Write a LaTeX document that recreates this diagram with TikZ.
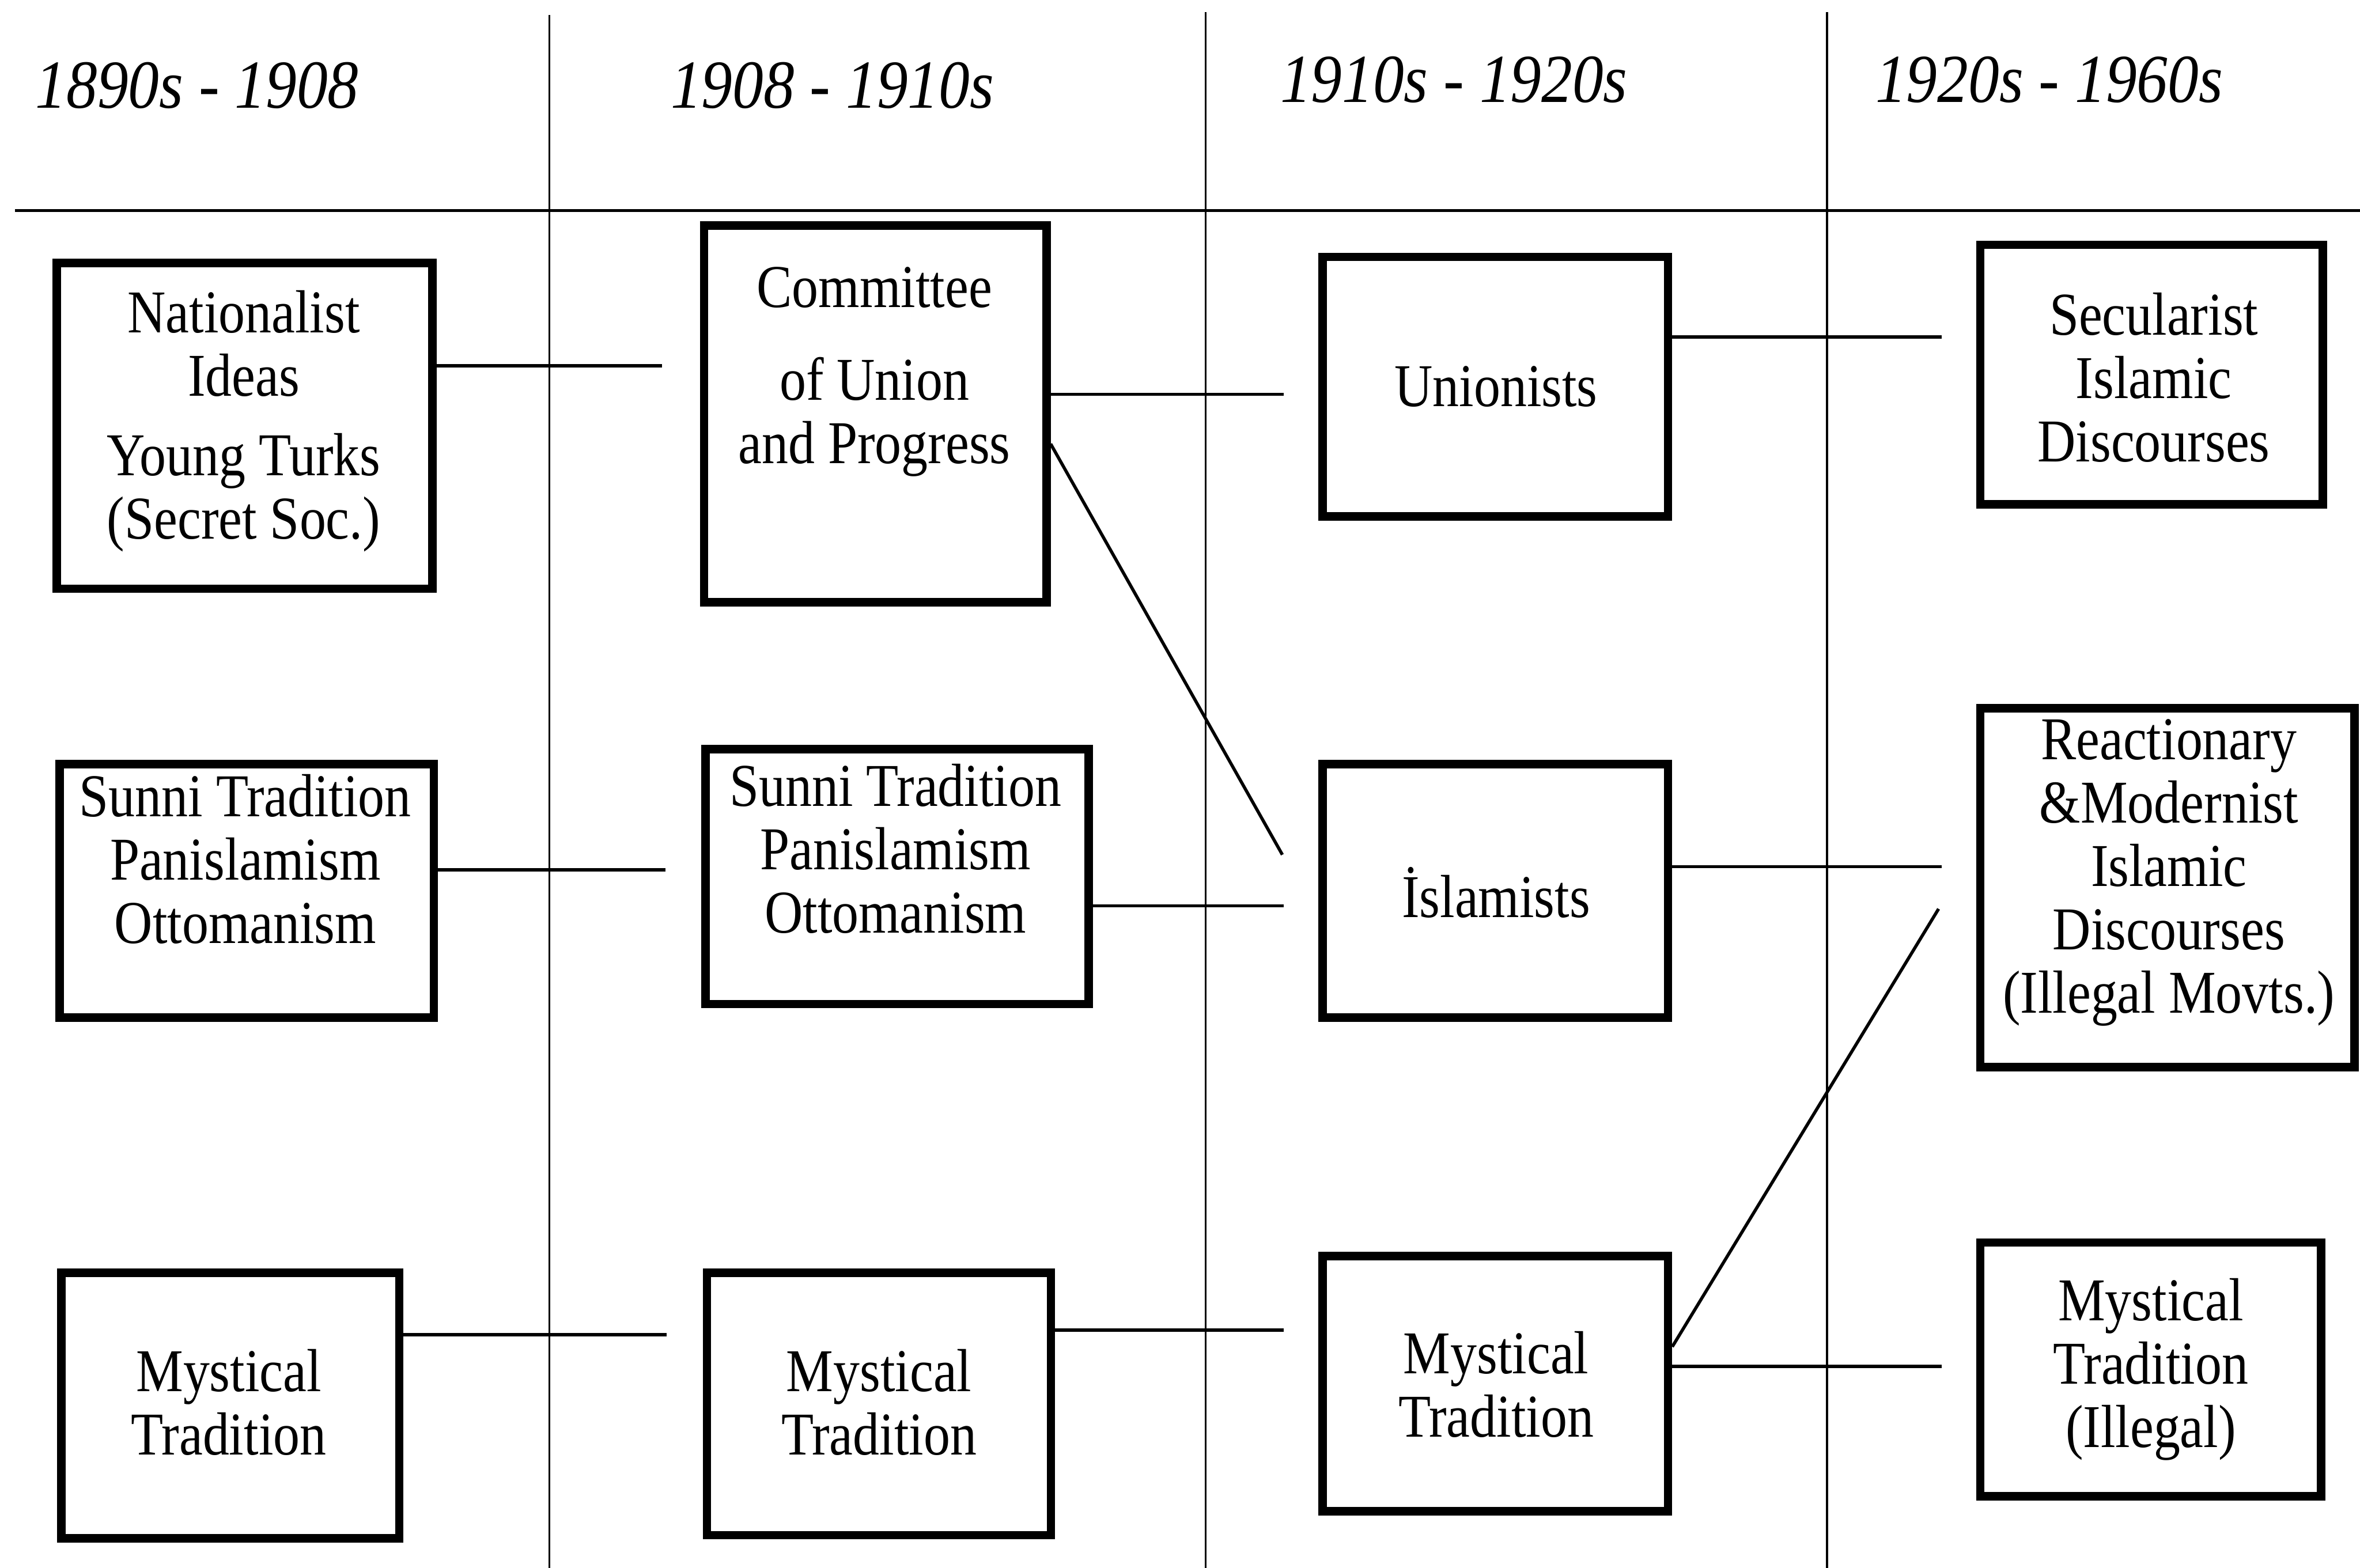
\documentclass[tikz,border=0pt]{standalone}
\usepackage{fontspec}
\setmainfont{Liberation Serif}
\newfontfamily\boxfont[FakeStretch=0.87]{Liberation Serif}
\newfontfamily\hdfont[FakeStretch=0.9]{Liberation Serif}
\tikzset{
  box/.style={draw, line width=1.6pt, inner sep=0pt},
  bx/.style 2 args={box, minimum width=#1mm, minimum height=#2mm},
  txt/.style={align=center, inner sep=0pt, font=\boxfont\fontsize{11.5}{12}\selectfont},
  hd/.style={inner sep=0pt, font=\hdfont\itshape\fontsize{13}{15}\selectfont},
  conn/.style={line width=0.6pt},
  sepline/.style={line width=0.4pt},
}
\begin{document}
\begin{tikzpicture}[x=0.1mm, y=-0.1mm]
\useasboundingbox (0,0) rectangle (1568,1042);

% separators
\coordinate (v1t) at (365,10);   \coordinate (v1b) at (365,1042);
\coordinate (v2t) at (801,8);    \coordinate (v2b) at (801,1042);
\coordinate (v3t) at (1214,8);   \coordinate (v3b) at (1214,1042);
\coordinate (hl) at (10,140);    \coordinate (hr) at (1568,140);
\draw[sepline] (v1t) -- (v1b);
\draw[sepline] (v2t) -- (v2b);
\draw[sepline] (v3t) -- (v3b);
\draw[conn] (hl) -- (hr);

% headers
\node[hd] (h1) at (131,57) {1890s - 1908};
\node[hd] (h2) at (553,57) {1908 - 1910s};
\node[hd] (h3) at (966,53) {1910s - 1920s};
\node[hd] (h4) at (1361.5,53) {1920s - 1960s};

% boxes
\node[bx={24.95}{21.65}] (b1) at (162.5,283) {};
\node[bx={22.75}{25.05}] (b2) at (581.5,275) {};
\node[bx={22.95}{17.25}] (b3) at (993.5,257) {};
\node[bx={22.75}{17.25}] (b4) at (1429.5,249) {};
\node[bx={24.85}{16.85}] (b5) at (164,592) {};
\node[bx={25.45}{16.95}] (b6) at (596,582.5) {};
\node[bx={22.95}{16.85}] (b7) at (993.5,592) {};
\node[bx={24.85}{23.85}] (b8) at (1440,590) {};
\node[bx={22.45}{17.65}] (b9) at (153,934) {};
\node[bx={22.85}{17.45}] (b10) at (584,933) {};
\node[bx={22.95}{16.95}] (b11) at (993.5,919.5) {};
\node[bx={22.65}{16.85}] (b12) at (1429,910) {};

% texts
\node[txt] (t1) at (162,280) {Nationalist\\Ideas\\[3pt]Young Turks\\(Secret Soc.)};
\node[txt] (t2) at (581,247) {Committee\\[5.5pt]of Union\\and Progress};
\node[txt] (t3) at (994,257) {Unionists};
\node[txt] (t4) at (1431,251) {Secularist\\Islamic\\Discourses};
\node[txt] (t5) at (163,571) {Sunni Tradition\\Panislamism\\Ottomanism};
\node[txt] (t6) at (595,564) {Sunni Tradition\\Panislamism\\Ottomanism};
\node[txt] (t7) at (994,593) {İslamists};
\node[txt] (t8) at (1441,580) {Reactionary\\\&Modernist\\Islamic\\Discourses\\(Illegal Movts.)};
\node[txt] (t9) at (152,932) {Mystical\\Tradition};
\node[txt] (t10) at (584,932) {Mystical\\Tradition};
\node[txt] (t11) at (994,920) {Mystical\\Tradition};
\node[txt] (t12) at (1429,910) {Mystical\\Tradition\\(Illegal)};

% connector ends
\coordinate (e1) at (440,243);
\coordinate (e2) at (853,262);
\coordinate (e3s) at (700,295);
\coordinate (e3) at (852,568);
\coordinate (e4) at (1290,224);
\coordinate (e5) at (442,578);
\coordinate (e6) at (853,602);
\coordinate (e7) at (1290,576);
\coordinate (e8s) at (1111,895);
\coordinate (e8) at (1288,604);
\coordinate (e9) at (443,887);
\coordinate (e10) at (853,884);
\coordinate (e11) at (1290,908);

\draw[conn] (b1.east |- e1) -- (e1);
\draw[conn] (b2.east |- e2) -- (e2);
\draw[conn] (b2.east |- e3s) -- (e3);
\draw[conn] (b3.east |- e4) -- (e4);
\draw[conn] (b5.east |- e5) -- (e5);
\draw[conn] (b6.east |- e6) -- (e6);
\draw[conn] (b7.east |- e7) -- (e7);
\draw[conn] (b11.east |- e8s) -- (e8);
\draw[conn] (b9.east |- e9) -- (e9);
\draw[conn] (b10.east |- e10) -- (e10);
\draw[conn] (b11.east |- e11) -- (e11);
\end{tikzpicture}
\end{document}
